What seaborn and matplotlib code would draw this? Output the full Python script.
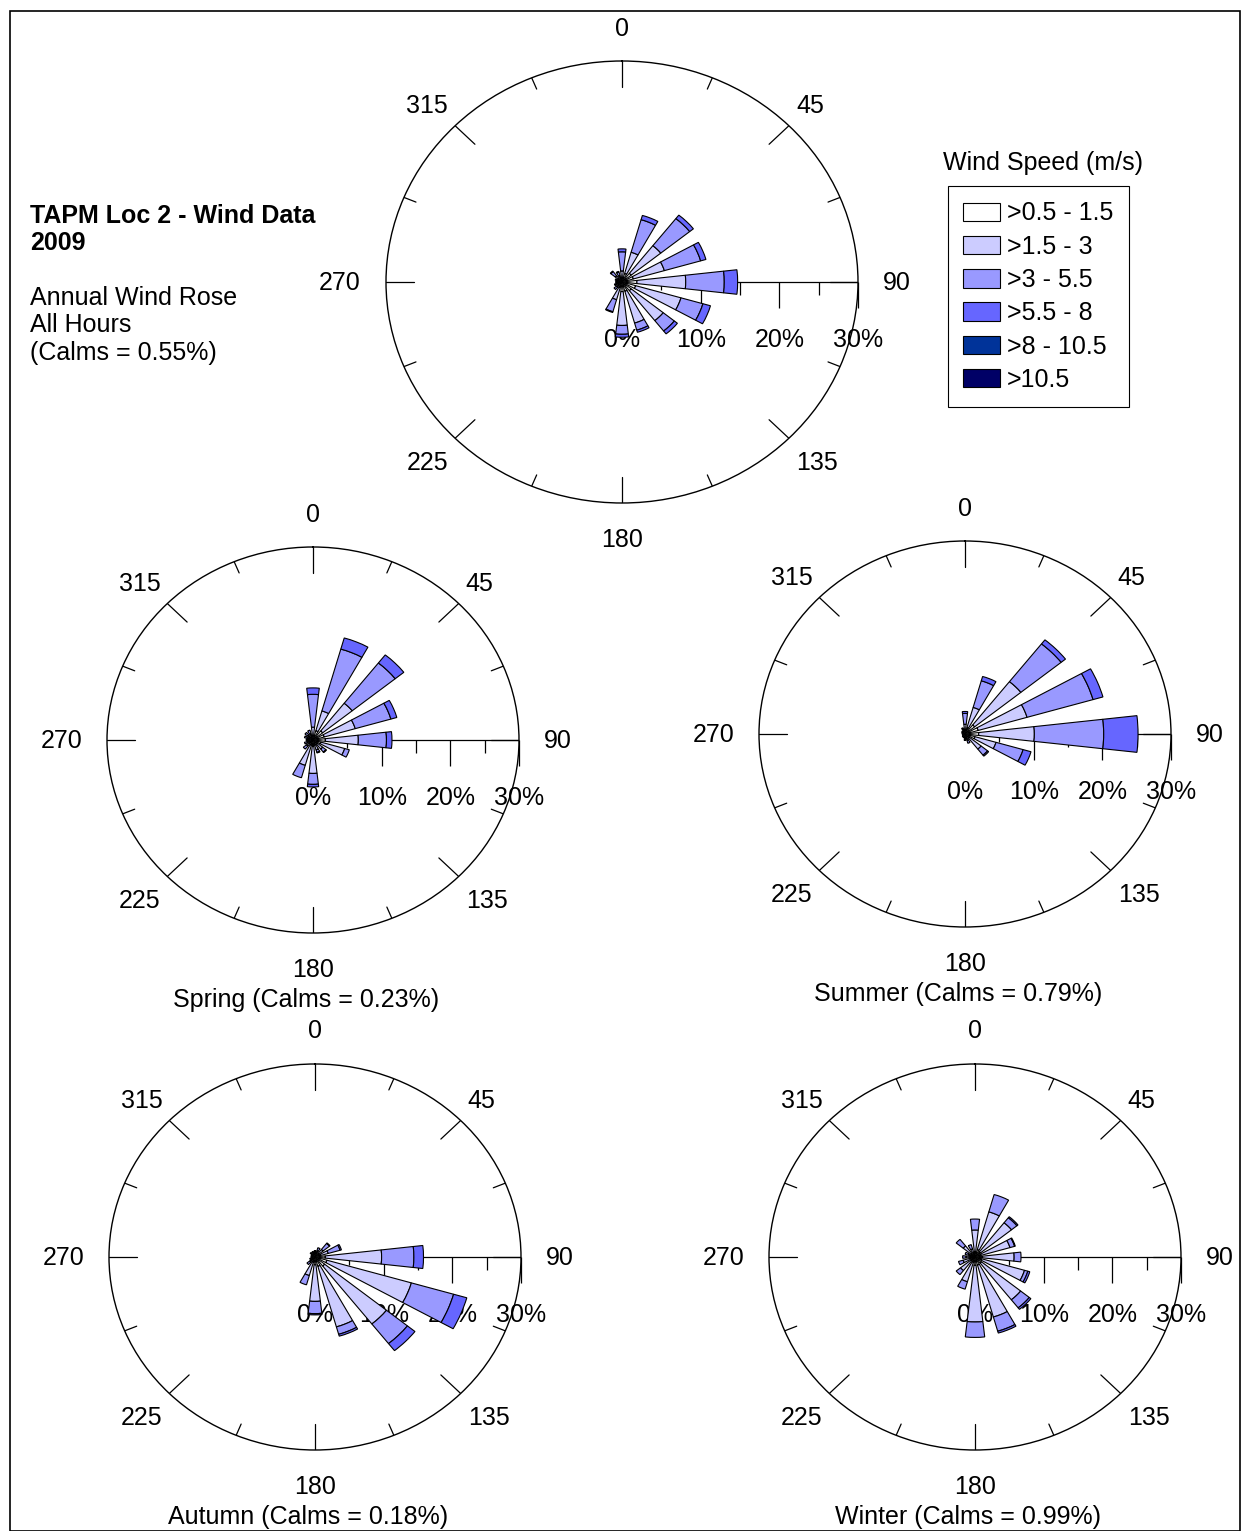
import numpy as np
import matplotlib
matplotlib.use("Agg")
import matplotlib.pyplot as plt
import matplotlib.transforms as mtransforms
from matplotlib.patches import Patch, Rectangle
import seaborn as sns

# 16 compass sectors, clockwise from north
directions = [0, 22.5, 45, 67.5, 90, 112.5, 135, 157.5,
              180, 202.5, 225, 247.5, 270, 292.5, 315, 337.5]
speed_classes = [">0.5 - 1.5", ">1.5 - 3", ">3 - 5.5", ">5.5 - 8", ">8 - 10.5", ">10.5"]
class_colors = ["#ffffff", "#ccccff", "#9999ff", "#6666ff", "#003399", "#000066"]
compass_labels = ["0", "45", "90", "135", "180", "225", "270", "315"]
pct_ticks = [0, 10, 20, 30]

# frequency (%) per speed class, rows = classes (>8 m/s classes are empty)
annual_freq = [
    [0.6, 1.2, 1.5, 1.5, 1.9, 1.8, 1.5, 1.3, 1.3, 0.8, 0.5, 0.4, 0.4, 0.4, 0.5, 0.4],
    [0.9, 3.0, 4.8, 4.1, 6.2, 6.0, 5.2, 4.5, 4.6, 1.7, 0.4, 0.4, 0.3, 0.3, 0.6, 0.5],
    [2.6, 4.6, 4.7, 4.8, 4.9, 2.9, 1.8, 1.0, 1.2, 1.7, 0.4, 0.2, 0.1, 0.2, 0.7, 0.5],
    [0.4, 0.6, 0.6, 0.7, 1.7, 1.0, 0.5, 0.3, 0.4, 0.1, 0.0, 0.0, 0.0, 0.0, 0.1, 0.1],
]
spring_freq = [
    [0.6, 1.5, 1.8, 1.7, 1.8, 1.2, 0.8, 0.8, 1.0, 0.8, 0.5, 0.4, 0.4, 0.4, 0.4, 0.4],
    [1.4, 3.2, 5.5, 4.7, 4.8, 3.6, 1.0, 0.8, 4.2, 3.3, 0.7, 0.5, 0.4, 0.5, 0.6, 0.6],
    [5.1, 10.0, 8.0, 5.4, 4.1, 0.7, 0.6, 0.4, 1.7, 2.0, 0.6, 0.4, 0.2, 0.4, 0.5, 0.6],
    [1.0, 1.8, 1.6, 0.9, 0.8, 0.0, 0.1, 0.1, 0.4, 0.0, 0.0, 0.0, 0.0, 0.0, 0.0, 0.0],
]
summer_freq = [
    [0.5, 1.0, 1.8, 2.0, 2.0, 1.5, 0.8, 0.5, 0.4, 0.3, 0.3, 0.3, 0.3, 0.3, 0.3, 0.3],
    [1.0, 3.3, 8.6, 7.4, 8.1, 3.2, 2.2, 0.5, 0.4, 0.2, 0.1, 0.1, 0.1, 0.1, 0.2, 0.3],
    [1.7, 4.3, 7.5, 10.0, 10.1, 4.1, 1.2, 0.5, 0.2, 0.1, 0.1, 0.0, 0.0, 0.1, 0.1, 0.3],
    [0.3, 0.7, 0.8, 1.5, 5.0, 1.2, 0.2, 0.0, 0.0, 0.0, 0.0, 0.0, 0.0, 0.0, 0.0, 0.1],
]
autumn_freq = [
    [0.4, 0.5, 0.6, 0.8, 1.5, 1.8, 1.8, 1.5, 1.2, 0.8, 0.5, 0.3, 0.3, 0.3, 0.3, 0.3],
    [0.3, 0.5, 0.9, 1.2, 8.2, 12.8, 11.5, 9.8, 5.7, 2.2, 0.5, 0.3, 0.2, 0.2, 0.3, 0.3],
    [0.3, 0.5, 1.2, 1.8, 4.7, 6.4, 3.9, 1.2, 1.9, 1.5, 0.5, 0.2, 0.1, 0.1, 0.3, 0.3],
    [0.0, 0.0, 0.1, 0.2, 1.4, 2.0, 1.4, 0.3, 0.2, 0.0, 0.0, 0.0, 0.0, 0.0, 0.0, 0.0],
]
winter_freq = [
    [0.8, 1.2, 1.0, 0.9, 1.0, 1.0, 1.2, 1.3, 1.3, 0.8, 0.7, 0.6, 0.5, 0.5, 0.6, 0.5],
    [3.4, 6.1, 5.8, 4.4, 4.7, 6.5, 7.3, 8.4, 8.8, 3.2, 2.0, 1.2, 0.8, 0.5, 1.6, 0.8],
    [1.7, 2.8, 1.0, 0.7, 1.0, 0.5, 1.6, 2.3, 2.4, 1.2, 0.8, 0.7, 0.5, 0.5, 1.3, 0.7],
    [0.0, 0.0, 0.2, 0.1, 0.0, 0.3, 0.3, 0.3, 0.0, 0.0, 0.0, 0.0, 0.0, 0.0, 0.0, 0.0],
]

W, H = 1241, 1531
sns.set_theme(style="white")
plt.rcParams["font.family"] = ["Liberation Sans", "DejaVu Sans"]
plt.rcParams["font.size"] = 18
plt.rcParams["text.color"] = "black"
palette = sns.color_palette(class_colors)

fig = plt.figure(figsize=(W / 100, H / 100), dpi=100)
fig.patch.set_facecolor("white")

# where each compass label sits relative to the rim point (pixels)
label_place = {
    "0": ("center", 0, 32.5), "45": ("left", 7, 20), "90": ("left", 25, -1),
    "135": ("left", 7, -25), "180": ("center", 0, -37), "225": ("right", -7, -25),
    "270": ("right", -25, -1), "315": ("right", -7, 20),
}


def draw_rose(cx, cy, hr, vr, freqs):
    rect = [(cx - hr) / W, 1 - (cy + vr) / H, 2 * hr / W, 2 * vr / H]
    ax = fig.add_axes(rect, projection="polar")
    ax.set_theta_zero_location("N")
    ax.set_theta_direction(-1)
    ax.set_aspect("auto")
    ax.set_ylim(0, 30)
    ax.set_xticks([])
    ax.set_yticks([])
    ax.grid(False)
    ax.set_facecolor("white")
    ax.spines["polar"].set_linewidth(1.0)
    ax.spines["polar"].set_color("black")

    # compass ticks around the rim
    px2r = 30 / hr
    for ang in directions:
        L = 28 if ang % 45 == 0 else 13
        ax.plot([np.deg2rad(ang)] * 2, [30 - L * px2r, 30], color="black", lw=0.9, zorder=2)
    # radial scale along 90
    ax.plot([np.pi / 2, np.pi / 2], [0, 30], color="black", lw=0.9, zorder=2)
    for r in [5, 10, 15, 20, 25, 30]:
        size = 19 if r % 10 == 0 else (6 if r == 5 else 9.5)
        ax.plot([np.pi / 2], [r], marker=3, markersize=size, markeredgewidth=0.9,
                color="black", clip_on=False, zorder=2)

    # compass labels
    for ang, lab in zip(directions[::2], compass_labels):
        ha, dx, dy = label_place[lab]
        tr = mtransforms.offset_copy(ax.transData, fig=fig, x=dx, y=dy, units="dots")
        ax.text(np.deg2rad(ang), 30, lab, transform=tr, ha=ha, va="center", fontsize=18)
    below = mtransforms.offset_copy(ax.transData, fig=fig, x=0, y=-58, units="dots")
    for r in pct_ticks:
        ax.text(np.pi / 2, r, f"{r}%", transform=below, ha="center", va="center",
                fontsize=18, zorder=2)

    # stacked wedges
    theta = np.deg2rad(directions)
    bottom = np.zeros(len(directions))
    for row, color in zip(freqs, palette):
        row = np.array(row)
        m = row > 0
        ax.bar(theta[m], row[m], width=np.deg2rad(13), bottom=bottom[m], color=color,
               edgecolor="black", linewidth=0.8, zorder=5)
        bottom += row
    return ax


draw_rose(622, 282, 236, 221, annual_freq)
draw_rose(313, 740, 206, 193, spring_freq)
draw_rose(965, 734, 206, 193, summer_freq)
draw_rose(315, 1257, 206, 193, autumn_freq)
draw_rose(975, 1257, 206, 193, winter_freq)


def ftext(x, y, s, **kw):
    fig.text(x / W, 1 - (y + 2) / H, s, va="center", fontsize=18, color="black", **kw)


ftext(30, 214, "TAPM Loc 2 - Wind Data", weight="bold")
ftext(30, 241, "2009", weight="bold")
ftext(30, 296, "Annual Wind Rose")
ftext(30, 323, "All Hours")
ftext(30, 351, "(Calms = 0.55%)")
ftext(306, 998, "Spring (Calms = 0.23%)", ha="center")
ftext(958, 992, "Summer (Calms = 0.79%)", ha="center")
ftext(308, 1515, "Autumn (Calms = 0.18%)", ha="center")
ftext(968, 1515, "Winter (Calms = 0.99%)", ha="center")
ftext(1043, 161, "Wind Speed (m/s)", ha="center")

handles = [Patch(facecolor=c, edgecolor="black", linewidth=0.8, label=l)
           for c, l in zip(palette, speed_classes)]
leg = fig.legend(handles=handles, loc="upper left", bbox_to_anchor=(948 / W, 1 - 186 / H),
                 frameon=True, fancybox=False, edgecolor="black", framealpha=1,
                 fontsize=18, handlelength=1.48, handleheight=0.76, handletextpad=0.25,
                 labelspacing=0.37, borderpad=0.62, borderaxespad=0)
leg.get_frame().set_linewidth(0.8)
for t in leg.get_texts():
    t.set_color("black")

fig.patches.append(Rectangle((10 / W, 0.5 / H), (1240 - 10) / W, (1530 - 10) / H,
                             transform=fig.transFigure, fill=False, edgecolor="black", lw=1.2))

plt.savefig("out.png", dpi=100)
